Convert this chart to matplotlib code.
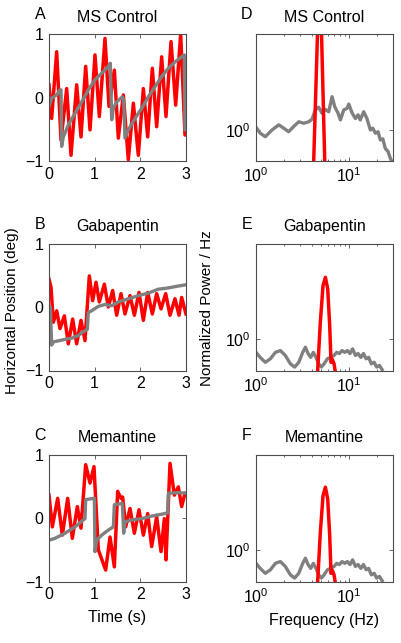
import matplotlib
matplotlib.use("Agg")
import matplotlib.pyplot as plt
from matplotlib.ticker import NullFormatter, NullLocator

plt.rcParams['font.family'] = ['Liberation Sans', 'DejaVu Sans']
plt.rcParams['mathtext.default'] = 'regular'

RED = '#ff0000'
GRAY = '#808080'
FS = 11.5

# --- time traces (s, deg) ---
a_red_t = [0, 0.058, 0.168, 0.263, 0.387, 0.482, 0.606, 0.701, 0.803, 0.898, 1.007, 1.102,
           1.226, 1.314, 1.431, 1.518, 1.628, 1.737, 1.847, 1.956, 2.066, 2.161, 2.263,
           2.358, 2.467, 2.562, 2.672, 2.774, 2.883, 2.978, 3.0]
a_red_y = [0.20, -0.33, 0.72, -0.67, 0.14, -0.91, 0.20, -0.62, 0.49, -0.51, 0.67, -0.30,
           0.93, -0.14, 0.43, -0.64, 0.04, -0.98, -0.09, -0.91, 0.14, -0.62, 0.46,
           -0.46, 0.64, -0.30, 0.88, -0.12, 1.0, -0.59, -0.59]
a_gray_t = [0, 0.058, 0.168, 0.241, 0.263, 0.277, 0.314, 0.423, 0.569, 0.715, 0.861, 1.007,
            1.153, 1.299, 1.343, 1.372, 1.409, 1.482, 1.606, 1.635, 1.664, 1.737, 1.883,
            2.029, 2.175, 2.321, 2.467, 2.613, 2.759, 2.905, 2.964, 2.978, 3.0]
a_gray_y = [-0.14, -0.01, 0.04, 0.12, 0.12, -0.77, -0.62, -0.43, -0.25, -0.07, 0.12, 0.28,
            0.38, 0.49, 0.54, -0.35, -0.17, -0.07, 0.01, -0.04, -0.64, -0.51, -0.33,
            -0.17, 0.01, 0.17, 0.33, 0.46, 0.56, 0.64, 0.67, -0.51, -0.51]

b_red_t = [0, 0.044, 0.095, 0.168, 0.241, 0.336, 0.423, 0.518, 0.606, 0.701, 0.788, 0.883,
           0.956, 1.029, 1.102, 1.212, 1.299, 1.394, 1.482, 1.577, 1.664, 1.774, 1.869,
           1.971, 2.066, 2.161, 2.263, 2.358, 2.453, 2.555, 2.650, 2.759, 2.847, 2.905, 3.0]
b_red_y = [0.44, 0.31, -0.24, -0.06, -0.34, -0.14, -0.58, -0.19, -0.58, -0.21, -0.53, 0.49,
           0.10, 0.39, 0.08, 0.36, 0.0, 0.26, -0.13, 0.21, -0.11, 0.18, -0.13,
           0.23, -0.21, 0.23, -0.11, 0.21, -0.03, 0.21, -0.13, 0.13, -0.13, 0.15, -0.11]
b_gray_t = [0, 0.03, 0.058, 0.095, 0.35, 0.50, 0.64, 0.75, 0.84, 0.86, 0.93, 1.08, 1.23,
            1.37, 1.52, 1.74, 1.96, 2.18, 2.39, 2.61, 2.83, 3.0]
b_gray_y = [0.0, 0.0, -0.60, -0.55, -0.51, -0.49, -0.45, -0.39, -0.35, -0.09, -0.06, 0.01,
            0.04, 0.02, 0.08, 0.13, 0.18, 0.22, 0.28, 0.30, 0.33, 0.35]

c_red_t = [0, 0.073, 0.190, 0.292, 0.409, 0.511, 0.620, 0.701, 0.803, 0.898, 0.985, 1.080,
           1.241, 1.336, 1.431, 1.504, 1.577, 1.613, 1.679, 1.774, 1.869, 1.971, 2.066,
           2.161, 2.248, 2.358, 2.453, 2.526, 2.562, 2.650, 2.745, 2.832, 2.905, 2.978, 3.0]
c_red_y = [0.36, -0.14, 0.31, -0.27, 0.31, -0.32, 0.18, -0.16, 0.84, 0.55, 0.81, -0.50,
           -0.82, -0.30, -0.77, 0.42, 0.31, 0.33, -0.14, 0.15, -0.24, 0.13, -0.27,
           0.07, -0.45, 0.02, -0.53, -0.01, -0.66, 0.86, 0.36, 0.49, 0.18, 0.39, 0.39]
c_gray_t = [0, 0.131, 0.350, 0.569, 0.752, 0.788, 0.803, 0.993, 1.007, 1.044, 1.153, 1.299,
            1.409, 1.431, 1.606, 1.635, 1.664, 1.810, 2.029, 2.248, 2.467, 2.599, 2.613,
            2.832, 3.0]
c_gray_y = [-0.35, -0.32, -0.24, -0.14, -0.03, -0.01, 0.29, 0.31, -0.53, -0.35, -0.27, -0.19,
            -0.14, 0.21, 0.23, -0.24, -0.06, -0.03, -0.01, 0.03, 0.06, 0.08, 0.39,
            0.40, 0.39]

# --- normalized power spectra (Hz, power/Hz) ---
d_gray_f = [1.0, 1.11, 1.26, 1.49, 1.76, 1.99, 2.25, 2.55, 2.89, 3.27, 3.70, 4.02, 4.36,
            4.74, 5.15, 5.60, 6.08, 6.61, 7.06, 7.67, 8.13, 8.83, 9.59, 10.0, 10.9, 11.8,
            12.6, 13.3, 14.5, 15.7, 17.1, 18.1, 19.4, 20.7, 21.9, 23.3, 24.8, 26.5, 28.1,
            29.3, 30.0]
d_gray_p = [1.06, 0.93, 0.86, 1.00, 1.12, 1.04, 0.96, 1.08, 1.20, 1.16, 1.20, 1.27, 1.56,
            1.66, 1.45, 1.58, 1.50, 2.10, 1.68, 1.45, 1.25, 1.56, 1.62, 1.78, 1.45, 1.29,
            1.40, 1.25, 1.50, 1.29, 1.00, 1.04, 0.93, 0.96, 0.80, 0.82, 0.66, 0.62, 0.53,
            0.49, 0.47]
d_red_f = [4.0, 4.19, 4.86, 5.51, 5.8]
d_red_p = [0.13, 0.5, 44.0, 0.5, 0.2]

e_gray_f = [1.0, 1.11, 1.26, 1.43, 1.62, 1.83, 2.07, 2.35, 2.61, 2.89, 3.19, 3.41, 3.64,
            3.89, 4.15, 4.44, 4.74, 5.07, 5.42, 5.89, 6.39, 6.94, 7.42, 7.93, 8.47, 9.04,
            9.67, 10.3, 11.0, 11.8, 12.6, 13.5, 14.4, 15.4, 16.4, 17.5, 18.8, 20.0, 21.4,
            22.9]
e_gray_p = [0.75, 0.67, 0.60, 0.65, 0.75, 0.78, 0.70, 0.58, 0.54, 0.60, 0.75, 0.84, 0.73,
            0.67, 0.75, 0.67, 0.58, 0.54, 0.58, 0.65, 0.67, 0.70, 0.75, 0.73, 0.78, 0.75,
            0.78, 0.73, 0.81, 0.70, 0.73, 0.67, 0.73, 0.65, 0.67, 0.58, 0.60, 0.54, 0.56,
            0.51]
e_red_f = [4.51, 4.62, 4.94, 5.28, 5.60, 5.93, 6.23, 6.44, 6.66, 6.94, 7.18]
e_red_p = [0.45, 0.50, 1.47, 3.33, 4.0, 3.09, 1.37, 0.60, 0.64, 0.58, 0.48]

# panel F looks the same as panel E
f_gray_f, f_gray_p = e_gray_f, e_gray_p
f_red_f = e_red_f
f_red_p = [0.45, 0.50, 1.50, 3.40, 4.1, 3.15, 1.40, 0.60, 0.64, 0.58, 0.48]

fig = plt.figure(figsize=(4.01, 6.43), dpi=100)
W, H = 401.0, 643.0
lefts = [49, 256]
tops = [34, 243.5, 454.5]
aw, ah = 137, 127


def make_ax(col, row):
    return fig.add_axes([lefts[col] / W, 1 - (tops[row] + ah) / H, aw / W, ah / H])


def common(ax, letter, title):
    for s in ax.spines.values():
        s.set_color('0.3')
        s.set_linewidth(0.8)
    ax.tick_params(which='both', direction='in', top=True, right=True,
                   labelsize=FS, color='0.3', width=0.6)
    ax.tick_params(which='major', length=3)
    ax.tick_params(which='minor', length=1.5)
    ax.tick_params(axis='x', pad=4)
    ax.tick_params(axis='y', pad=4)
    ax.set_title(title, fontsize=FS, pad=9)
    ax.text(-9 / aw, 1 + 15 / ah, letter, transform=ax.transAxes,
            ha='center', va='baseline', fontsize=FS)


time_panels = [('A', 'MS Control', a_red_t, a_red_y, a_gray_t, a_gray_y),
               ('B', 'Gabapentin', b_red_t, b_red_y, b_gray_t, b_gray_y),
               ('C', 'Memantine', c_red_t, c_red_y, c_gray_t, c_gray_y)]
for row, (letter, title, rt, ry, gt, gy) in enumerate(time_panels):
    ax = make_ax(0, row)
    ax.plot(rt, ry, color=RED, lw=2.5, solid_joinstyle='round')
    ax.plot(gt, gy, color=GRAY, lw=2.4, solid_joinstyle='round')
    ax.set_xlim(0, 3)
    ax.set_ylim(-1, 1)
    ax.set_xticks([0, 1, 2, 3])
    ax.set_yticks([-1, 0, 1])
    common(ax, letter, title)
    if row == 2:
        ax.set_xlabel('Time (s)', fontsize=FS, labelpad=6)

spec_panels = [('D', 'MS Control', d_red_f, d_red_p, d_gray_f, d_gray_p),
               ('E', 'Gabapentin', e_red_f, e_red_p, e_gray_f, e_gray_p),
               ('F', 'Memantine', f_red_f, f_red_p, f_gray_f, f_gray_p)]
for row, (letter, title, rf, rp, gf, gp) in enumerate(spec_panels):
    ax = make_ax(1, row)
    ax.plot(gf, gp, color=GRAY, lw=2.4, solid_joinstyle='round')
    ax.plot(rf, rp, color=RED, lw=2.5, solid_joinstyle='round')
    ax.set_xscale('log')
    ax.set_yscale('log')
    ax.set_xlim(1, 30)
    ax.set_ylim(0.5, 8.5)
    ax.yaxis.set_minor_locator(NullLocator())
    ax.yaxis.set_minor_formatter(NullFormatter())
    ax.xaxis.set_minor_formatter(NullFormatter())
    ax.set_yticks([1])
    common(ax, letter, title)
    if row == 2:
        ax.set_xlabel('Frequency (Hz)', fontsize=FS, labelpad=5)

fig.text(12 / W, 1 - 311 / H, 'Horizontal Position (deg)', rotation=90,
         ha='center', va='center', fontsize=11)
fig.text(207 / W, 1 - 308 / H, 'Normalized Power / Hz', rotation=90,
         ha='center', va='center', fontsize=11)

fig.savefig('out.png', dpi=100)
